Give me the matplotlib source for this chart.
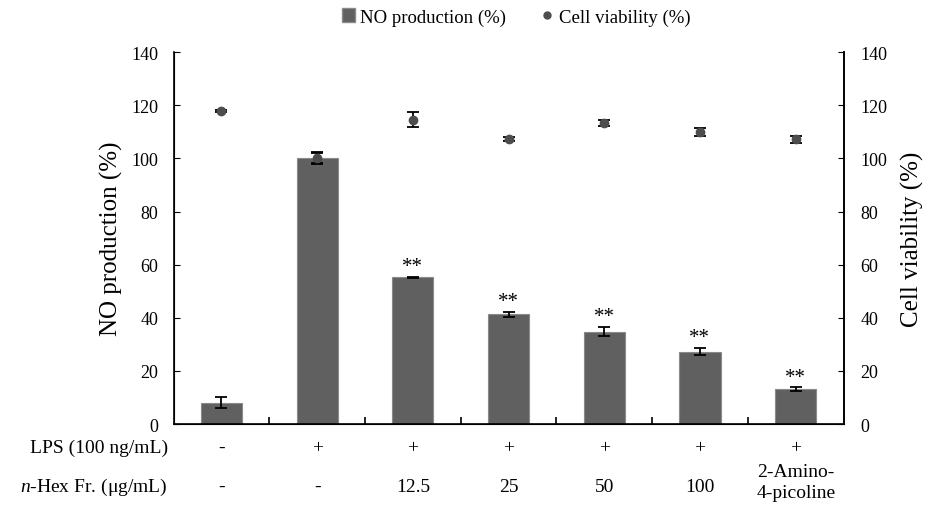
import matplotlib
matplotlib.use("Agg")
import matplotlib.pyplot as plt
import matplotlib.transforms as mtransforms
from matplotlib.lines import Line2D
from matplotlib.patches import Patch
import numpy as np

# treatment groups (x order)
lps_row = ["-", "+", "+", "+", "+", "+", "+"]
hex_row = ["-", "-", "12.5", "25", "50", "100", "2-Amino-\n4-picoline"]

no_prod = [8.0, 100.0, 55.2, 41.3, 34.8, 27.2, 13.2]
no_err = [2.0, 2.0, 0.3, 1.0, 1.8, 1.3, 0.6]
viability = [117.9, 100.3, 114.5, 107.3, 113.3, 110.0, 107.2]
via_err = [0.5, 2.2, 2.8, 0.9, 1.0, 1.5, 1.4]
stars = ["", "", "**", "**", "**", "**", "**"]

plt.rcParams["font.family"] = ["Liberation Serif", "DejaVu Serif"]
plt.rcParams["mathtext.fontset"] = "custom"
plt.rcParams["mathtext.rm"] = "Liberation Serif"
plt.rcParams["mathtext.it"] = "Liberation Serif:italic"

fig = plt.figure(figsize=(9.28, 5.06), dpi=100)
ax = fig.add_axes([0.187, 0.160, 0.722, 0.735])
x = np.arange(len(no_prod))

ax.bar(x, no_prod, width=0.43, color="#606060", edgecolor="#8a8a8a",
       linewidth=0.8, zorder=2)
ax.errorbar(x, no_prod, yerr=no_err, fmt="none", ecolor="black",
            elinewidth=1.3, capsize=4, capthick=1.3, zorder=3)
for xi, yi, ei, s in zip(x, no_prod, no_err, stars):
    if s:
        ax.text(xi, yi + ei + 2.2, s, ha="center", va="baseline", fontsize=15)

ax.set_xlim(-0.5, len(no_prod) - 0.5)
ax.set_ylim(0, 140)
ax.set_yticks(range(0, 141, 20))
ax.tick_params(axis="y", direction="in", length=4, labelsize=13, pad=11)
ax.set_xticks(np.arange(0.5, len(no_prod) - 0.5, 1))
ax.set_xticklabels([])
ax.tick_params(axis="x", direction="in", length=5, width=1.2)
ax.set_ylabel("NO production (%)", fontsize=18, labelpad=6)
for sp in ["left", "right", "bottom"]:
    ax.spines[sp].set_linewidth(1.2)
ax.spines["top"].set_visible(False)

ax2 = ax.twinx()
ax2.errorbar(x, viability, yerr=via_err, fmt="o", color="#4d4d4d",
             markersize=6, ecolor="black", elinewidth=1.3, capsize=4,
             capthick=1.3, zorder=4)
ax2.set_ylim(0, 140)
ax2.set_yticks(range(0, 141, 20))
ax2.tick_params(axis="y", direction="in", length=4, labelsize=13, pad=12)
ax2.set_ylabel("Cell viability (%)", fontsize=18, labelpad=10)
ax2.spines["top"].set_visible(False)
ax2.spines["right"].set_linewidth(1.2)

# legend at top
handles = [Patch(facecolor="#606060", edgecolor="#8a8a8a"),
           Line2D([], [], marker="o", linestyle="none", color="#4d4d4d",
                  markersize=5)]
fig.legend(handles, ["NO production (%)", "Cell viability (%)"],
           loc="upper center", bbox_to_anchor=(0.556, 1.015), ncol=2,
           frameon=False, fontsize=13.5, handlelength=0.7, handleheight=0.7,
           handletextpad=0.3, columnspacing=1.8)

# treatment table under the axis
trans = mtransforms.blended_transform_factory(ax.transData, fig.transFigure)
for xi, a, b in zip(x, lps_row, hex_row):
    ax.text(xi, 0.114, a, transform=trans, ha="center", va="center", fontsize=14)
    ax.text(xi, 0.046 if "\n" in b else 0.037, b, transform=trans,
            ha="center", va="center", fontsize=14, linespacing=1.3)
fig.text(0.181, 0.114, "LPS (100 ng/mL)", ha="right", va="center", fontsize=14)
fig.text(0.181, 0.037, r"$\it{n}$-Hex Fr. (μg/mL)", ha="right", va="center",
         fontsize=14)

fig.savefig("out.png", dpi=100)
